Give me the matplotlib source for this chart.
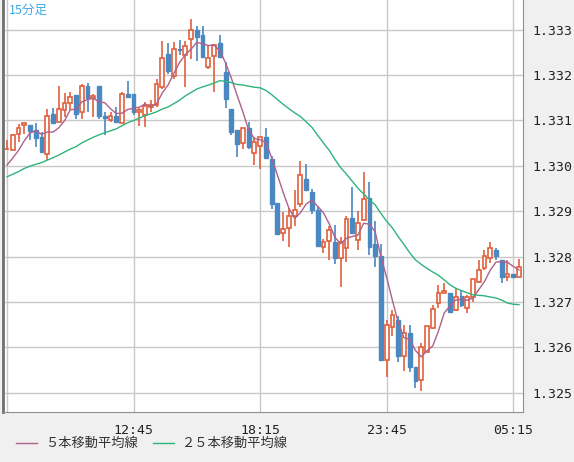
import matplotlib
matplotlib.use("Agg")
import matplotlib.pyplot as plt
import numpy as np
from matplotlib.patches import Rectangle

# 24 closes before the visible window (only used for moving averages)
prior_closes = [1.3293,1.3294,1.3292,1.3295,1.3296,1.3294,1.3297,1.3296,1.3298,1.3297,
                1.3299,1.3298,1.3297,1.3299,1.3300,1.3298,1.3299,1.3300,1.3299,1.3298,
                1.3299,1.3300,1.3299,1.3299]

opens = [1.33036,1.33035,1.33071,1.33090,1.33089,1.33078,1.33063,1.33025,1.33115,1.33096,
         1.33123,1.33139,1.33155,1.33118,1.33175,1.33150,1.33175,1.33110,1.33101,1.33109,
         1.33094,1.33159,1.33157,1.33119,1.33111,1.33129,1.33133,1.33174,1.33246,1.33197,
         1.33258,1.33243,1.33280,1.33300,1.33288,1.33218,1.33241,1.33271,1.33207,1.33124,
         1.33079,1.33051,1.33084,1.33029,1.33043,1.33063,1.33016,1.32919,1.32852,1.32863,
         1.32890,1.32916,1.32972,1.32943,1.32903,1.32821,1.32834,1.32832,1.32796,1.32818,
         1.32884,1.32836,1.32881,1.32929,1.32828,1.32801,1.32573,1.32645,1.32661,1.32581,
         1.32632,1.32556,1.32529,1.32590,1.32643,1.32698,1.32721,1.32719,1.32682,1.32714,
         1.32687,1.32712,1.32745,1.32774,1.32798,1.32814,1.32792,1.32756,1.32762,1.32756]
closes = [1.33038,1.33068,1.33084,1.33095,1.33076,1.33062,1.33030,1.33109,1.33094,1.33124,
          1.33139,1.33151,1.33115,1.33175,1.33149,1.33154,1.33110,1.33106,1.33109,1.33096,
          1.33159,1.33151,1.33118,1.33122,1.33131,1.33133,1.33179,1.33238,1.33209,1.33258,
          1.33254,1.33264,1.33299,1.33284,1.33240,1.33238,1.33265,1.33240,1.33148,1.33074,
          1.33049,1.33083,1.33041,1.33052,1.33063,1.33017,1.32917,1.32850,1.32861,1.32889,
          1.32903,1.32980,1.32946,1.32903,1.32823,1.32832,1.32859,1.32796,1.32832,1.32883,
          1.32852,1.32874,1.32927,1.32821,1.32801,1.32573,1.32650,1.32672,1.32581,1.32632,
          1.32556,1.32527,1.32601,1.32647,1.32685,1.32721,1.32725,1.32679,1.32712,1.32693,
          1.32711,1.32750,1.32770,1.32801,1.32818,1.32801,1.32756,1.32762,1.32756,1.32778]
highs = [1.33057,1.33071,1.33093,1.33095,1.33089,1.33094,1.33074,1.33126,1.33128,1.33175,
         1.33161,1.33163,1.33155,1.33181,1.33182,1.33157,1.33175,1.33118,1.33118,1.33129,
         1.33163,1.33186,1.33157,1.33128,1.33140,1.33144,1.33190,1.33274,1.33271,1.33273,
         1.33278,1.33275,1.33324,1.33307,1.33307,1.33265,1.33269,1.33288,1.33229,1.33124,
         1.33079,1.33083,1.33096,1.33063,1.33063,1.33083,1.33021,1.32919,1.32898,1.32907,
         1.32946,1.33010,1.33003,1.32948,1.32910,1.32839,1.32868,1.32870,1.32843,1.32890,
         1.32953,1.32900,1.32986,1.32964,1.32879,1.32828,1.32661,1.32683,1.32670,1.32650,
         1.32650,1.32556,1.32610,1.32648,1.32694,1.32738,1.32741,1.32721,1.32730,1.32727,
         1.32716,1.32750,1.32792,1.32814,1.32832,1.32818,1.32792,1.32792,1.32762,1.32794]
lows = [1.33034,1.33034,1.33052,1.33071,1.33057,1.33041,1.33030,1.33012,1.33093,1.33096,
        1.33107,1.33122,1.33104,1.33104,1.33118,1.33107,1.33104,1.33067,1.33096,1.33096,
        1.33094,1.33151,1.33111,1.33087,1.33085,1.33118,1.33129,1.33170,1.33203,1.33192,
        1.33243,1.33174,1.33236,1.33230,1.33238,1.33214,1.33163,1.33238,1.33128,1.33067,
        1.33019,1.33037,1.33037,1.33001,1.32993,1.33016,1.32905,1.32849,1.32834,1.32821,
        1.32868,1.32910,1.32945,1.32894,1.32821,1.32807,1.32792,1.32783,1.32734,1.32789,
        1.32850,1.32815,1.32879,1.32803,1.32778,1.32573,1.32534,1.32625,1.32567,1.32549,
        1.32545,1.32510,1.32505,1.32589,1.32640,1.32687,1.32719,1.32677,1.32681,1.32690,
        1.32677,1.32701,1.32741,1.32770,1.32786,1.32792,1.32743,1.32747,1.32756,1.32756]

tick_pos = [0, 22, 44, 66, 88]
tick_labels = ["", "12:45", "18:15", "23:45", "05:15"]
y_ticks = [1.325, 1.326, 1.327, 1.328, 1.329, 1.330, 1.331, 1.332, 1.333]

UP = "#e0603c"
DOWN = "#4a88c2"
MA5C = "#b0608c"
MA25C = "#2eb47c"

W, H = 574, 462
fig = plt.figure(figsize=(W/100, H/100), dpi=100, facecolor="#f0f0f0")
ax = fig.add_axes([3/W, 50/H, 520/W, 412/H])
ax.set_facecolor("white")

n = len(closes)
x = np.arange(n)
allc = np.array(prior_closes + closes)
ma5 = np.convolve(allc, np.ones(5)/5, mode="valid")[-n:]
ma25 = np.convolve(allc, np.ones(25)/25, mode="valid")[-n:]

for i in range(n):
    o, c, h, l = opens[i], closes[i], highs[i], lows[i]
    col = UP if c >= o else DOWN
    bot, top = min(o, c), max(o, c)
    ax.plot([i, i], [l, bot], color=col, lw=1.2, zorder=3, solid_capstyle="butt")
    ax.plot([i, i], [top, h], color=col, lw=1.2, zorder=3, solid_capstyle="butt")
    hgt = max(top - bot, 0.000015)
    if c >= o:
        ax.add_patch(Rectangle((i-0.33, bot), 0.66, hgt, facecolor="white", edgecolor=col, lw=1.2, zorder=4))
    else:
        ax.add_patch(Rectangle((i-0.33, bot), 0.66, hgt, facecolor=col, edgecolor=col, lw=1.0, zorder=4))

ax.plot(x, ma5, color=MA5C, lw=1.0, zorder=5)
ax.plot(x, ma25, color=MA25C, lw=1.0, zorder=5)

ax.set_xlim(-0.7, 89.7)
ax.set_ylim(1.32458, 1.33365)
ax.set_xticks(tick_pos)
ax.set_xticklabels(tick_labels, family="DejaVu Sans Mono", fontsize=9.5, color="#222222")
ax.set_yticks(y_ticks)
ax.set_yticklabels([f"{v:.3f}" for v in y_ticks], family="DejaVu Sans Mono", fontsize=9.5, color="#222222")
ax.yaxis.tick_right()
ax.tick_params(length=0, pad=7)
ax.tick_params(axis="x", pad=9)
ax.grid(True, color="#c8c8c8", lw=1.0, zorder=0)
ax.spines["top"].set_visible(False)
ax.spines["left"].set_color("#707070")
ax.spines["left"].set_linewidth(2)
ax.spines["right"].set_color("#909090")
ax.spines["bottom"].set_color("#909090")

ax.text(0.012, 0.99, "15分足", transform=ax.transAxes, ha="left", va="top",
        color="#3aa8e8", fontsize=9, family=["Noto Sans CJK JP", "DejaVu Sans"])

# legend
ly = 1 - 443/H
fig.add_artist(plt.Line2D([16/W, 37/W], [ly, ly], color=MA5C, lw=1))
fig.text(45/W, ly, "５本移動平均線", ha="left", va="center", fontsize=9.5, color="#333333",
         family=["Noto Sans CJK JP", "DejaVu Sans"])
fig.add_artist(plt.Line2D([153/W, 174/W], [ly, ly], color=MA25C, lw=1))
fig.text(182/W, ly, "２５本移動平均線", ha="left", va="center", fontsize=9.5, color="#333333",
         family=["Noto Sans CJK JP", "DejaVu Sans"])

fig.savefig("out.png", dpi=100, facecolor=fig.get_facecolor())
